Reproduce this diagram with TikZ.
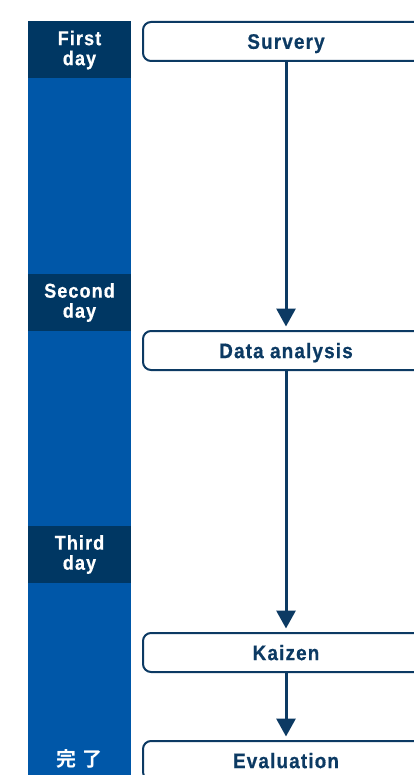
\documentclass[tikz,border=0pt]{standalone}
\usepackage{fontspec}
\setmainfont{Liberation Sans}[FakeStretch=0.9, LetterSpace=5.5,
    BoldFont={Liberation Sans Bold}, BoldFeatures={FakeStretch=0.9, LetterSpace=5.5, FakeBold=0.6}]
\newfontfamily\cjkfont{Noto Sans CJK JP}[BoldFont={Noto Sans CJK JP Bold}]
\usetikzlibrary{arrows.meta}
\definecolor{navy}{HTML}{003763}
\definecolor{barblue}{HTML}{0057A8}
\definecolor{ink}{HTML}{0C3A63}

\begin{document}
\begin{tikzpicture}[x=1pt, y=-1pt,
    daybox/.style={fill=navy, text=white, minimum width=103pt, minimum height=57pt,
        align=center, inner sep=0pt, font=\bfseries\fontsize{20}{20}\selectfont},
    stepbox/.style={draw=ink, line width=2pt, rounded corners=8pt, minimum width=286pt,
        minimum height=39pt, inner sep=0pt, text=ink, text depth=0pt,
        font=\bfseries\fontsize{21}{21}\selectfont},
    flow/.style={draw=ink, line width=3pt, -{Triangle[width=19pt,length=18pt]}, shorten >=3.5pt}]
    \useasboundingbox (0,0) rectangle (414,775);
    \clip (0,0) rectangle (414,775);
    \fill[barblue] (28,21) rectangle (131,775);
    \node[daybox] (first) at (79.5,50) {First\\day};
    \node[daybox] (second) at (79.5,302.5) {Second\\day};
    \node[daybox] (third) at (79.5,554.5) {Third\\day};
    \node[text=white, inner sep=0pt, font=\cjkfont\bfseries\fontsize{20}{20}\selectfont] (done) at (79.5,759) {完\hspace{6pt}了};
    \node[stepbox] (survey) at (286,41.5) {Survery};
    \node[stepbox] (analysis) at (286,350.5) {Data analysis};
    \node[stepbox] (kaizen) at (286,652.5) {Kaizen};
    \node[stepbox] (evaluation) at (286,760.5) {Evaluation};
    \draw[flow] (survey) -- (analysis);
    \draw[flow] (analysis) -- (kaizen);
    \draw[flow] (kaizen) -- (evaluation);
\end{tikzpicture}
\end{document}
